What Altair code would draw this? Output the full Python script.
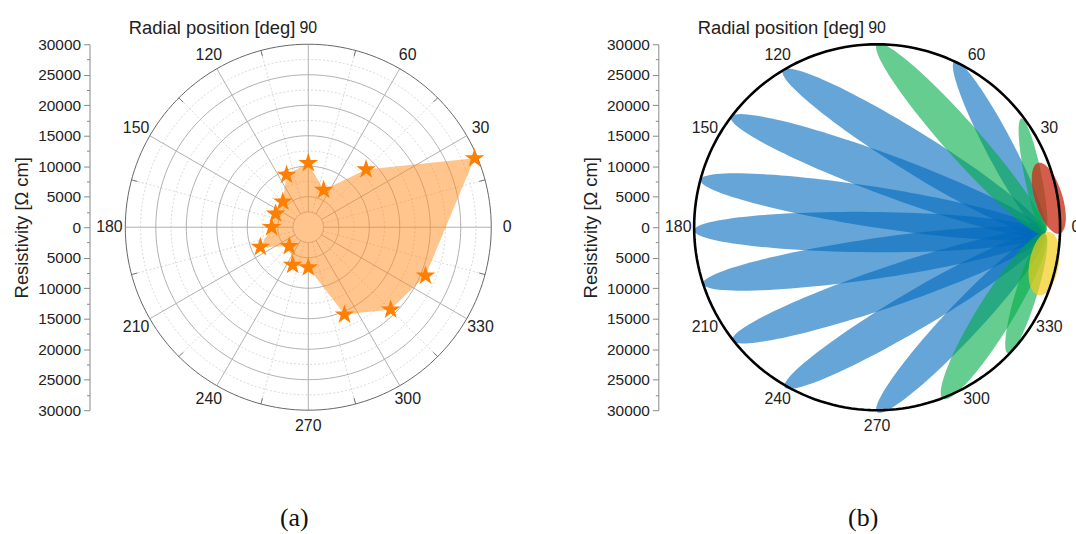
import altair as alt
import pandas as pd

# ---------------- data: panel (a) ----------------
theta_a = [22.5, 45, 67.5, 90, 112.5, 135, 157.5, 180, 202.5, 225, 247.5, 270, 292.5, 315, 337.5]
rho_a = [29500, 13400, 6600, 10500, 9300, 5900, 5800, 6000, 8500, 4400, 6700, 6600, 15500, 19100, 20800]

# ---------------- data: panel (b) petals ----------------
petal_group = ["blue"] * 9 + ["green"] * 4 + ["red", "yellow"]
petal_r1 = [27500] * 13 + [29950, 28300]
petal_a1 = [-2.2] * 13 + [-2.0, -1.6]
petal_r2 = [30000, 30000, 30000, 30000, 30000, 30000, 30100, 30300, 30300,
            30000, 29600, 30100, 29800, 28400, 28700]
petal_a2 = [65, 121, 143, 165, 181, 198, 218, 240, 270,
            90, 37, 291, 316, 21.8, -22.9]
petal_w = [4500, 6600, 6600, 6600, 6600, 6600, 6500, 6200, 5700,
           5800, 2800, 5800, 3500, 4500, 4800]

# ---------------- axes / grid values ----------------
label_deg = list(range(0, 360, 30))
ring_major = [2500, 5000, 10000, 15000, 20000, 25000]
ring_minor = [7500, 12500, 17500, 22500, 27500]
ring_outer = [30000]
spoke_major = list(range(0, 360, 30))
spoke_minor = list(range(15, 360, 30))
circ_deg = list(range(0, 360, 2))
ell_t = list(range(0, 360, 3))

SANS = "Liberation Sans"
SERIF = "Liberation Serif"
W = 368
LAB_R = 32600

SC = alt.Scale(domain=[-30000, 30000], nice=False, zero=False)
X = alt.X("x:Q", scale=SC, axis=None)
YAXIS = alt.Axis(
    values=list(range(-30000, 30001, 2500)),
    labelExpr="datum.value % 5000 == 0 ? format(abs(datum.value), 'd') : ''",
    tickSize={"condition": {"test": "datum.value % 5000 == 0", "value": 6}, "value": 3},
    offset=36,
    grid=False,
    title="Resistivity [Ω cm]",
    titleFont=SANS, titleFontSize=18.5, titleFontWeight="normal", titleColor="#222",
    titlePadding=6,
    labelFont=SANS, labelFontSize=15.5, labelColor="#222", labelPadding=3,
    domainColor="#888", tickColor="#888", labelOverlap=False,
)
Y = alt.Y("y:Q", scale=SC, axis=YAXIS)

STAR = ("M0,-1L0.225,-0.309L0.951,-0.309L0.363,0.118L0.588,0.809L0,0.382"
        "L-0.588,0.809L-0.363,0.118L-0.951,-0.309L-0.225,-0.309Z")


def ring_df(radii):
    return pd.DataFrame([(r, a) for r in radii for a in circ_deg], columns=["r", "a"])


def rings(radii, color, width, dash=None):
    kw = dict(color=color, strokeWidth=width, interpolate="linear-closed")
    if dash:
        kw["strokeDash"] = dash
    return (
        alt.Chart(ring_df(radii))
        .mark_line(**kw)
        .transform_calculate(x="datum.r*cos(datum.a*PI/180)", y="datum.r*sin(datum.a*PI/180)")
        .encode(x=X, y=Y, detail="r:N", order="a:Q")
    )


def spokes(angles, r_in, r_out, color, width, dash=None):
    kw = dict(color=color, strokeWidth=width)
    if dash:
        kw["strokeDash"] = dash
    return (
        alt.Chart(pd.DataFrame({"a": angles}))
        .mark_rule(**kw)
        .transform_calculate(
            x=f"{r_in}*cos(datum.a*PI/180)", y=f"{r_in}*sin(datum.a*PI/180)",
            x2=f"{r_out}*cos(datum.a*PI/180)", y2=f"{r_out}*sin(datum.a*PI/180)",
        )
        .encode(x=X, y=Y, x2="x2:Q", y2="y2:Q")
    )


def angle_labels():
    base = alt.Chart(pd.DataFrame({"deg": label_deg})).transform_calculate(
        x=f"{LAB_R}*cos(datum.deg*PI/180)", y=f"{LAB_R}*sin(datum.deg*PI/180)",
        t="'' + datum.deg",
    )
    labs = base.mark_text(font=SANS, fontSize=16, color="#222", baseline="middle").encode(
        x=X, y=Y, text="t:N"
    )
    ttl = (
        base.transform_filter("datum.deg == 90")
        .mark_text(font=SANS, fontSize=18.5, color="#222", align="right", baseline="middle", dx=-13)
        .encode(x=X, y=Y, text=alt.value("Radial position [deg]"))
    )
    return [labs, ttl]


def bottom_title(txt):
    return alt.TitleParams(
        txt, orient="bottom", anchor="middle", frame="group", font=SERIF, fontSize=26,
        fontWeight="normal", color="#111", offset=72, dx=-14,
    )


# ---------------- panel (a) ----------------
poly_df = pd.DataFrame({"theta": theta_a, "rho": rho_a})
poly_base = alt.Chart(poly_df).transform_calculate(
    x="datum.rho*cos(datum.theta*PI/180)", y="datum.rho*sin(datum.theta*PI/180)"
)
poly = poly_base.mark_line(
    filled=True, interpolate="linear-closed", color="#FF8C1A", fillOpacity=0.5, strokeWidth=0
).encode(x=X, y=Y, order="theta:Q")
stars = poly_base.mark_point(
    shape=STAR, filled=True, color="#FF7F00", size=430, opacity=1
).encode(x=X, y=Y)

panel_a = alt.layer(
    rings(ring_minor, "#d0d0d0", 0.8, [2, 2]),
    spokes(spoke_minor, 2500, 30000, "#d0d0d0", 0.8, [2, 2]),
    rings(ring_major, "#a8a8a8", 0.9),
    spokes(spoke_major, 2500, 30000, "#a8a8a8", 0.9),
    spokes(spoke_minor, 29000, 30000, "#666", 0.9),
    rings(ring_outer, "#666", 1.0),
    poly,
    stars,
    *angle_labels(),
).properties(width=W, height=W, title=bottom_title("(a)"))

# ---------------- panel (b) ----------------
pet_df = pd.DataFrame({
    "pid": list(range(len(petal_group))), "grp": petal_group,
    "r1": petal_r1, "a1": petal_a1, "r2": petal_r2, "a2": petal_a2, "w": petal_w,
})
pet_full = pet_df.merge(pd.DataFrame({"t": ell_t}), how="cross")

pet_base = alt.Chart(pet_full).transform_calculate(
    x1="datum.r1*cos(datum.a1*PI/180)", y1="datum.r1*sin(datum.a1*PI/180)",
    x2e="datum.r2*cos(datum.a2*PI/180)", y2e="datum.r2*sin(datum.a2*PI/180)",
).transform_calculate(
    L="sqrt(pow(datum.x2e-datum.x1,2)+pow(datum.y2e-datum.y1,2))",
).transform_calculate(
    ux="(datum.x2e-datum.x1)/datum.L", uy="(datum.y2e-datum.y1)/datum.L",
    cx="(datum.x1+datum.x2e)/2", cy="(datum.y1+datum.y2e)/2",
).transform_calculate(
    x="datum.cx + datum.L/2*cos(datum.t*PI/180)*datum.ux - datum.w/2*sin(datum.t*PI/180)*datum.uy",
    y="datum.cy + datum.L/2*cos(datum.t*PI/180)*datum.uy + datum.w/2*sin(datum.t*PI/180)*datum.ux",
)

pcolors = {"blue": "#0069BC", "green": "#00AC48", "red": "#C8301A", "yellow": "#F2CC18"}
popac = {"blue": 0.6, "green": 0.6, "red": 0.78, "yellow": 0.7}


def petals(g):
    return pet_base.transform_filter(f"datum.grp == '{g}'").mark_line(
        filled=True, interpolate="linear-closed", color=pcolors[g], fillOpacity=popac[g], strokeWidth=0
    ).encode(x=X, y=Y, detail="pid:N", order="t:Q")


panel_b = alt.layer(
    petals("blue"),
    petals("green"),
    petals("red"),
    petals("yellow"),
    rings(ring_outer, "#000", 2.6),
    *angle_labels(),
).properties(width=W, height=W, title=bottom_title("(b)"))

chart = (
    alt.hconcat(panel_a, panel_b, spacing=69)
    .properties(padding={"left": 12, "top": 18, "right": -5, "bottom": 0}, background="white")
    .configure_view(stroke=None)
)

chart.save("out.html", embed_options={"renderer": "svg", "actions": False})
